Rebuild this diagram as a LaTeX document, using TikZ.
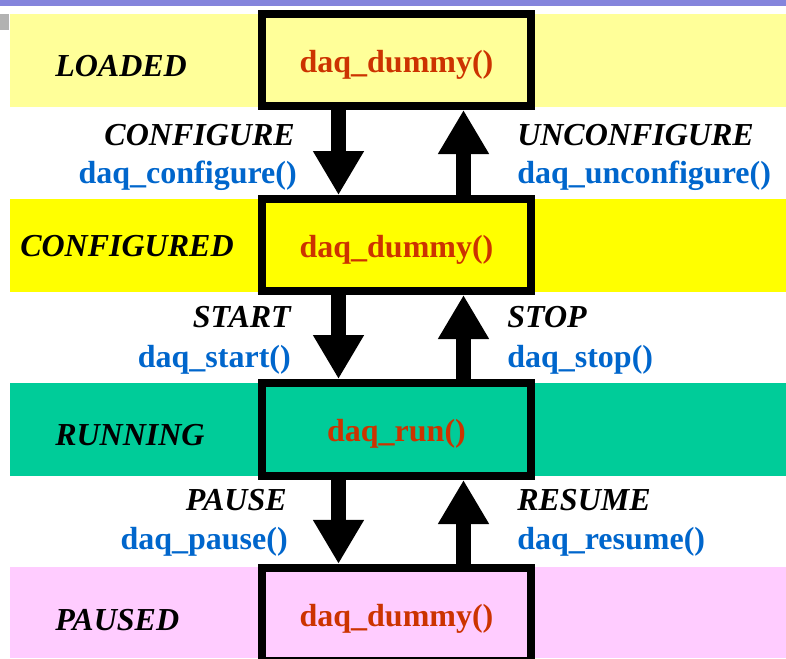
\documentclass[tikz,border=0pt]{standalone}
\usepackage{fontspec}
\setmainfont{Liberation Serif}
\usetikzlibrary{positioning,arrows.meta}

\definecolor{loadedbg}{HTML}{FFFF99}
\definecolor{configbg}{HTML}{FFFF00}
\definecolor{runbg}{HTML}{00CC99}
\definecolor{pausebg}{HTML}{FFCCFF}
\definecolor{funcred}{HTML}{CC3300}
\definecolor{callblue}{HTML}{0066CC}
\definecolor{topbar}{HTML}{8484DC}

\newcommand{\boxtext}[1]{\raisebox{-9pt}[0pt][0pt]{#1}}

\begin{document}
\begin{tikzpicture}[
        x=0.75pt, y=-0.75pt,
        statetag/.style={font=\fontsize{24}{29}\selectfont\bfseries\itshape, anchor=base west, inner sep=0},
        trans/.style={font=\fontsize{24}{29}\selectfont\bfseries\itshape, inner sep=0},
        call/.style={font=\fontsize{24}{29}\selectfont\bfseries, text=callblue, inner sep=0},
        box/.style={draw, line width=6pt, minimum width=201.75pt, inner sep=0, font=\fontsize{24}{29}\selectfont\bfseries, text=funcred},
        flow/.style={line width=11.25pt, -{Triangle[width=36pt, length=33pt]}}
      ]
      \useasboundingbox (0,0) rectangle (786,658);
      \clip (0,0) rectangle (786,658);

      % bands
      \fill[topbar] (0,0) rectangle (786,5.5);
      \fill[black!30] (0,14) rectangle (9,30);
      \fill[loadedbg] (10,14) rectangle (786,107);
      \fill[configbg] (10,199) rectangle (786,292);
      \fill[runbg] (10,383) rectangle (786,476);
      \fill[pausebg] (10,567) rectangle (786,658);

      % states
      \node (loaded) [box, minimum height=69pt] at (396.5,60) {\boxtext{daq\_dummy()}};
      \node (configured) [box, minimum height=69pt] at (396.5,245) {\boxtext{daq\_dummy()}};
      \node (running) [box, minimum height=69.75pt] at (396.5,429.5) {\boxtext{daq\_run()}};
      \node (paused) [box, minimum height=70pt] at (396.5,614.5) {\boxtext{daq\_dummy()}};

      \node (LT) [statetag] at (55,76) {LOADED};
      \node (CT) [statetag] at (20,256) {CONFIGURED};
      \node (RT) [statetag] at (55,445) {RUNNING};
      \node (PT) [statetag] at (55,630) {PAUSED};

      % transitions
      \path[flow] ([xshift=-43.5pt]loaded.south) edge ([xshift=-43.5pt]configured.north);
      \path[flow] ([xshift=50.25pt]configured.north) edge ([xshift=50.25pt]loaded.south);
      \path[flow] ([xshift=-43.5pt]configured.south) edge ([xshift=-43.5pt]running.north);
      \path[flow] ([xshift=50.25pt]running.north) edge ([xshift=50.25pt]configured.south);
      \path[flow] ([xshift=-43.5pt]running.south) edge ([xshift=-43.5pt]paused.north);
      \path[flow] ([xshift=50.25pt]paused.north) edge ([xshift=50.25pt]running.south);

      \node (cfg) [trans, anchor=base east] at (295,145) {CONFIGURE};
      \node (cfgf) [call, anchor=base east] at (297,183) {daq\_configure()};
      \node (ucfg) [trans, anchor=base west] at (517,145) {UNCONFIGURE};
      \node (ucfgf) [call, anchor=base west] at (517,183) {daq\_unconfigure()};

      \node (st) [trans, anchor=base east] at (291,327) {START};
      \node (stf) [call, anchor=base east] at (291,367) {daq\_start()};
      \node (sp) [trans, anchor=base west] at (507,327) {STOP};
      \node (spf) [call, anchor=base west] at (507,367) {daq\_stop()};

      \node (pa) [trans, anchor=base east] at (287,510) {PAUSE};
      \node (paf) [call, anchor=base east] at (288,549) {daq\_pause()};
      \node (re) [trans, anchor=base west] at (517,510) {RESUME};
      \node (ref) [call, anchor=base west] at (517,549) {daq\_resume()};

    \end{tikzpicture}
\end{document}
